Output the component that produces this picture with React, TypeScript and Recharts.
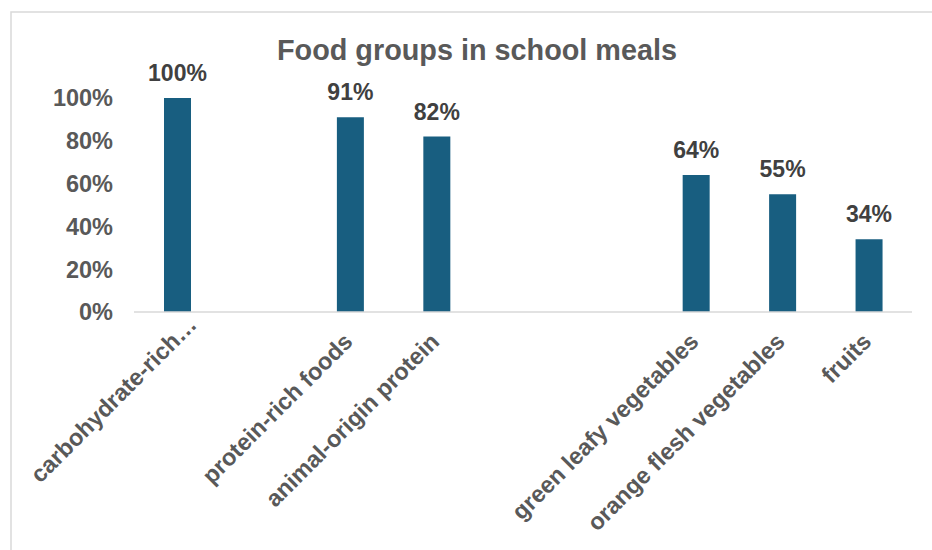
import React from 'react';
import { BarChart, Bar, XAxis, YAxis, LabelList } from 'recharts';

// empty strings are the gaps between the groups in the original sheet
const categories = [
  'carbohydrate-rich…',
  '',
  'protein-rich foods',
  'animal-origin protein',
  '',
  '',
  'green leafy vegetables',
  'orange flesh vegetables',
  'fruits',
];
const shares: (number | null)[] = [1.0, null, 0.91, 0.82, null, null, 0.64, 0.55, 0.34];
const yTicks = [0, 0.2, 0.4, 0.6, 0.8, 1.0];

const data = categories.map((name, i) => ({ name, value: shares[i] }));

const FONT = '"Liberation Sans", Arial, sans-serif';
const BAR_COLOR = '#185E80';

const pct = (v: any) => (v == null ? '' : `${Math.round(v * 100)}%`);

const XTick = ({ x, y, payload }: any) => {
  const label: string = payload.value;
  if (!label) return null;
  // truncated label sits a bit further along its own direction
  const shift = label.endsWith('…') ? 24 : 0;
  const ax = x + 4 + shift * 0.707;
  const ay = y + 31 - shift * 0.707;
  return (
    <text
      x={ax}
      y={ay}
      transform={`rotate(-45 ${ax} ${ay})`}
      textAnchor="end"
      fill="#595959"
      fontFamily={FONT}
      fontWeight="bold"
      fontSize={23.5}
    >
      {label}
    </text>
  );
};

const App = () => {
  return (
    <div style={{ position: 'absolute', left: 0, top: 0, width: 932, height: 550, background: '#fff' }}>
      <BarChart
        width={932}
        height={550}
        data={data}
        margin={{ top: 98, right: 20, bottom: 8, left: 0 }}
        barCategoryGap={0}
      >
        <XAxis
          dataKey="name"
          interval={0}
          height={230}
          tickLine={false}
          tickSize={0}
          tickMargin={0}
          axisLine={{ stroke: '#d9d9d9', strokeWidth: 1.5 }}
          tick={<XTick />}
        />
        <YAxis
          width={134}
          domain={[0, 1]}
          ticks={yTicks}
          tickFormatter={pct}
          axisLine={false}
          tickLine={false}
          tickSize={0}
          tickMargin={21}
          tick={{ fill: '#595959', fontFamily: FONT, fontWeight: 'bold', fontSize: 23.5 }}
        />
        <Bar dataKey="value" fill={BAR_COLOR} barSize={27} isAnimationActive={false}>
          <LabelList
            dataKey="value"
            position="top"
            offset={17}
            formatter={pct}
            fill="#404040"
            fontFamily={FONT}
            fontWeight="bold"
            fontSize={23}
          />
        </Bar>
      </BarChart>
      <svg
        width={932}
        height={550}
        style={{ position: 'absolute', left: 0, top: 0, pointerEvents: 'none' }}
      >
        <rect x={11} y={12} width={940} height={560} fill="none" stroke="#d9d9d9" strokeWidth={1.5} />
        <text
          x={477}
          y={60}
          textAnchor="middle"
          fill="#595959"
          fontFamily={FONT}
          fontWeight="bold"
          fontSize={28.8}
        >
          Food groups in school meals
        </text>
      </svg>
    </div>
  );
};

export default App;
